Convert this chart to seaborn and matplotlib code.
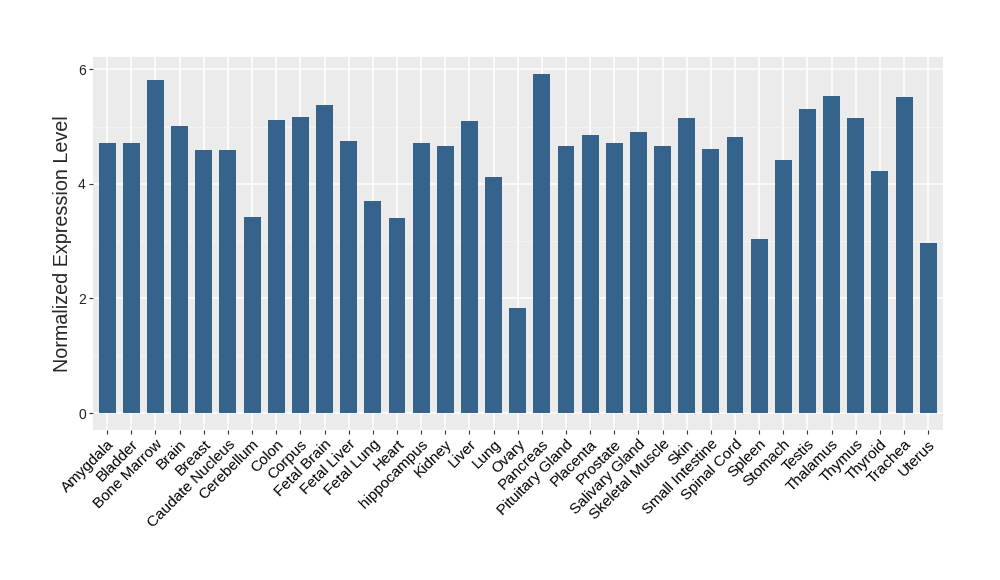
import pandas as pd
import matplotlib.pyplot as plt
import seaborn as sns

# tissue names and expression values
tissues = [
    "Amygdala", "Bladder", "Bone Marrow", "Brain", "Breast", "Caudate Nucleus",
    "Cerebellum", "Colon", "Corpus", "Fetal Brain", "Fetal Liver", "Fetal Lung",
    "Heart", "hippocampus", "Kidney", "Liver", "Lung", "Ovary", "Pancreas",
    "Pituitary Gland", "Placenta", "Prostate", "Salivary Gland", "Skeletal Muscle",
    "Skin", "Small Intestine", "Spinal Cord", "Spleen", "Stomach", "Testis",
    "Thalamus", "Thymus", "Thyroid", "Trachea", "Uterus",
]
expression = [
    4.71, 4.71, 5.81, 5.01, 4.59, 4.59,
    3.42, 5.12, 5.17, 5.38, 4.75, 3.70,
    3.41, 4.71, 4.66, 5.09, 4.12, 1.84, 5.92,
    4.66, 4.85, 4.71, 4.91, 4.66,
    5.15, 4.61, 4.82, 3.04, 4.42, 5.31,
    5.54, 5.15, 4.23, 5.51, 2.97,
]
y_ticks = [0, 2, 4, 6]

df = pd.DataFrame({"tissue": tissues, "expr": expression})

sns.set_theme(style="darkgrid", rc={
    "axes.facecolor": "#EBEBEB",
    "grid.color": "white",
})
plt.rcParams["font.family"] = ["Liberation Sans", "DejaVu Sans"]

fig = plt.figure(figsize=(10, 5.8), dpi=100)
ax = fig.add_axes([0.0927, 0.2586, 0.85, 0.6436])

sns.barplot(data=df, x="tissue", y="expr", color="#35638B", saturation=1,
            width=0.7, linewidth=0, ax=ax, zorder=3)

ax.set_xlim(-0.6, len(tissues) - 0.4)
ax.set_ylim(-0.297, 6.22)
ax.set_yticks(y_ticks)
ax.set_yticks([1, 3, 5], minor=True)
ax.grid(which="major", color="white", linewidth=1.1, zorder=0)
ax.grid(which="minor", axis="y", color="#F5F5F5", linewidth=0.6, zorder=0)
ax.set_axisbelow(True)
for s in ax.spines.values():
    s.set_visible(False)

ax.tick_params(axis="both", which="major", length=3, width=0.8, color="#333333",
               pad=2, bottom=True, left=True)
ax.tick_params(axis="y", which="minor", length=0)
ax.tick_params(axis="x", labelsize=11, labelcolor="black")
ax.tick_params(axis="y", labelsize=10, labelcolor="#222222")
plt.setp(ax.get_xticklabels(), rotation=45, ha="right", rotation_mode="anchor")

ax.set_xlabel("")
ax.set_ylabel("Normalized Expression Level", fontsize=14.2, labelpad=4)

fig.savefig("out.png", dpi=100)
